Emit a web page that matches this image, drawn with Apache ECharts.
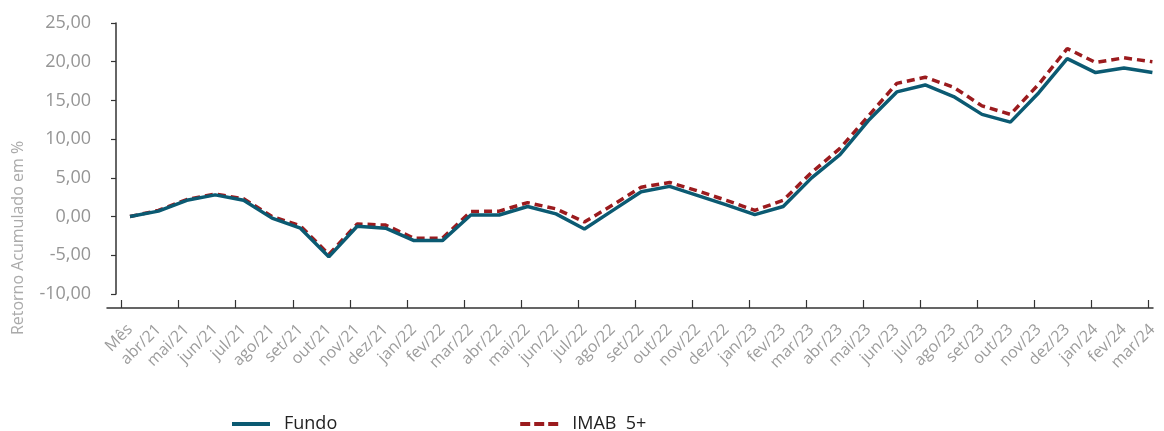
<!DOCTYPE html>
<html>
<head>
<meta charset="utf-8">
<script src="https://cdn.jsdelivr.net/npm/echarts@6/dist/echarts.min.js"></script>
<style>
  html, body { margin: 0; padding: 0; background: #fff; }
  #chart { width: 1164px; height: 431px; }
</style>
</head>
<body>
<div id="chart"></div>
<script>
  // categorias do eixo x
  const categories = ['Mês', 'abr/21', 'mai/21', 'jun/21', 'jul/21', 'ago/21', 'set/21', 'out/21', 'nov/21', 'dez/21',
    'jan/22', 'fev/22', 'mar/22', 'abr/22', 'mai/22', 'jun/22', 'jul/22', 'ago/22', 'set/22', 'out/22', 'nov/22', 'dez/22',
    'jan/23', 'fev/23', 'mar/23', 'abr/23', 'mai/23', 'jun/23', 'jul/23', 'ago/23', 'set/23', 'out/23', 'nov/23', 'dez/23',
    'jan/24', 'fev/24', 'mar/24'];

  // retorno acumulado em %
  const fundo = [0.0, 0.7, 2.1, 2.8, 2.1, -0.2, -1.5, -5.2, -1.25, -1.5,
    -3.1, -3.1, 0.2, 0.2, 1.3, 0.35, -1.6, 0.8, 3.2, 3.9, 2.7, 1.5,
    0.25, 1.3, 5.0, 8.0, 12.4, 16.1, 17.0, 15.5, 13.2, 12.2, 16.0, 20.4,
    18.6, 19.2, 18.6];
  const imab = [0.0, 0.8, 2.2, 2.9, 2.3, 0.0, -1.2, -4.9, -0.95, -1.1,
    -2.8, -2.8, 0.65, 0.7, 1.8, 1.0, -0.7, 1.5, 3.8, 4.4, 3.3, 2.1,
    0.8, 2.1, 5.7, 8.8, 13.0, 17.2, 18.0, 16.7, 14.3, 13.2, 17.1, 21.7,
    19.9, 20.5, 20.0];

  const seriesNames = ['Fundo', 'IMAB  5+'];
  const yTicks = { min: -10, max: 25, step: 5 };

  const chart = echarts.init(document.getElementById('chart'));
  const font = '"Open Sans", "Noto Sans", sans-serif';

  const option = {
    animation: false,
    textStyle: { fontFamily: font },
    grid: [
      { left: 130, right: 11.6, top: 23, bottom: 137 },   // dados + rótulos do eixo x
      { left: 121.7, right: 16, top: 23, bottom: 123 },   // ticks do eixo x
      { left: 107, right: 11, top: 23, bottom: 123 }      // linha do eixo x
    ],
    xAxis: [
      {
        gridIndex: 0, type: 'category', data: categories, boundaryGap: false,
        axisLine: { show: false }, axisTick: { show: false },
        axisLabel: { interval: 0, rotate: 45, margin: 33, color: '#9c9c9c', fontSize: 16, fontFamily: font }
      },
      {
        gridIndex: 1, type: 'category', data: categories, boundaryGap: false,
        axisLine: { show: false },
        axisTick: { show: true, inside: true, length: 8, lineStyle: { color: '#333', width: 1.2 } },
        axisLabel: { show: false }
      },
      {
        gridIndex: 2, type: 'value', min: 0, max: 1,
        axisLine: { show: true, lineStyle: { color: '#333', width: 1.5 } },
        axisTick: { show: false }, axisLabel: { show: false }, splitLine: { show: false }
      }
    ],
    yAxis: [
      {
        gridIndex: 0, type: 'value', min: yTicks.min, max: yTicks.max, interval: yTicks.step,
        offset: 14,
        axisLine: { show: true, lineStyle: { color: '#333', width: 1.5 } },
        axisTick: { show: true, length: 5, lineStyle: { color: '#333', width: 1.2 } },
        splitLine: { show: false },
        axisLabel: {
          margin: 25, color: '#959595', fontSize: 18, fontFamily: font,
          formatter: v => v.toFixed(2).replace('.', ',')
        }
      },
      { gridIndex: 1, type: 'value', show: false },
      { gridIndex: 2, type: 'value', show: false }
    ],
    graphic: [
      {
        type: 'text', x: 18, y: 238, rotation: Math.PI / 2,
        style: {
          text: 'Retorno Acumulado em %', fill: '#aaaaaa', font: '16px ' + font,
          align: 'center', verticalAlign: 'middle'
        }
      }
    ],
    legend: {
      data: [
        { name: seriesNames[0] },
        { name: seriesNames[1], lineStyle: { type: [10, 4] } }
      ],
      left: 230, top: 415, padding: 0,
      itemWidth: 38, itemHeight: 14, itemGap: 181,
      itemStyle: { opacity: 0 },
      lineStyle: { width: 4 },
      textStyle: { color: '#222', fontSize: 18, fontFamily: font, padding: [0, 0, 0, 9] }
    },
    series: [
      {
        name: seriesNames[1], type: 'line', data: imab,
        xAxisIndex: 0, yAxisIndex: 0, showSymbol: false, symbol: 'none',
        lineStyle: { color: '#9b1b1e', width: 3.5, type: [8, 5] },
        itemStyle: { color: '#9b1b1e' }
      },
      {
        name: seriesNames[0], type: 'line', data: fundo,
        xAxisIndex: 0, yAxisIndex: 0, showSymbol: false, symbol: 'none',
        lineStyle: { color: '#0b5a72', width: 3.5 },
        itemStyle: { color: '#0b5a72' }
      }
    ]
  };

  chart.setOption(option);
</script>
</body>
</html>
